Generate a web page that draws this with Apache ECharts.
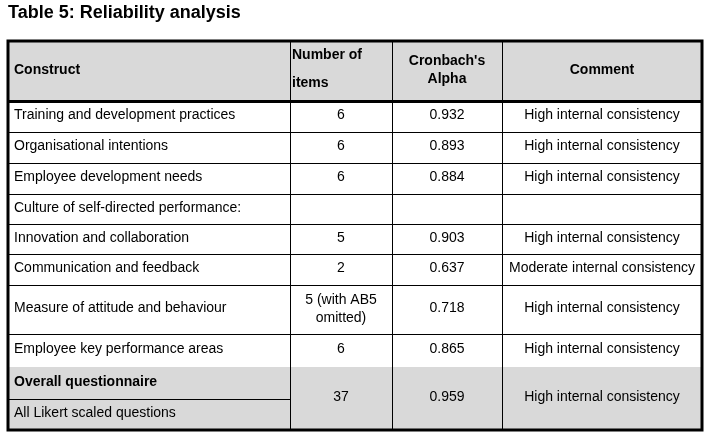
<!DOCTYPE html>
<html>
<head>
<meta charset="utf-8">
<script src="https://cdn.jsdelivr.net/npm/echarts@6/dist/echarts.min.js"></script>
<style>
  html, body { margin: 0; padding: 0; background: #fff; }
  #main { width: 712px; height: 435px; }
</style>
</head>
<body>
<div id="main"></div>
<script>
// ---- table data ----
var headers = ['Construct', 'Number of\nitems', "Cronbach's\nAlpha", 'Comment'];
var constructs = [
  'Training and development practices',
  'Organisational intentions',
  'Employee development needs',
  'Culture of self-directed performance:',
  'Innovation and collaboration',
  'Communication and feedback',
  'Measure of attitude and behaviour',
  'Employee key performance areas'
];
var itemCounts = ['6', '6', '6', '', '5', '2', '5 (with AB5\nomitted)', '6'];
var alphas = ['0.932', '0.893', '0.884', '', '0.903', '0.637', '0.718', '0.865'];
var comments = [
  'High internal consistency',
  'High internal consistency',
  'High internal consistency',
  '',
  'High internal consistency',
  'Moderate internal consistency',
  'High internal consistency',
  'High internal consistency'
];
var overallLabels = ['Overall questionnaire', 'All Likert scaled questions'];
var overallValues = ['37', '0.959', 'High internal consistency'];

// ---- layout (axis units = pixels) ----
var colEdges = [8, 290, 392, 502, 702];
var rowEdges = [41, 101, 132, 163, 194, 224, 254, 285, 334, 367, 430];
var overallSplit = 399;
var headFill = '#d9d9d9';
var font = "'Liberation Sans', Arial, sans-serif";

var cells = [];
headers.forEach(function (h, i) {
  cells.push({x0: colEdges[i], x1: colEdges[i + 1], y0: rowEdges[0], y1: rowEdges[1],
    text: h, bold: true, align: i < 2 ? 'left' : 'center', fill: headFill,
    lh: i === 1 ? 28 : 18, pad: i === 1 ? 2 : 6, dy: i === 1 ? -2 : -1});
});
constructs.forEach(function (name, k) {
  var vals = [name, itemCounts[k], alphas[k], comments[k]];
  vals.forEach(function (v, i) {
    cells.push({x0: colEdges[i], x1: colEdges[i + 1], y0: rowEdges[k + 1], y1: rowEdges[k + 2],
      text: v, bold: false, align: i === 0 ? 'left' : 'center', fill: '#fff', lh: 18, pad: 6,
      dy: v.indexOf('\n') >= 0 ? 0 : -1});
  });
});
var last = rowEdges.length - 2;
overallLabels.forEach(function (t, j) {
  cells.push({x0: colEdges[0], x1: colEdges[1],
    y0: j === 0 ? rowEdges[last] : overallSplit, y1: j === 0 ? overallSplit : rowEdges[last + 1],
    text: t, bold: j === 0, align: 'left', fill: headFill, lh: 18, pad: 6, dy: -1});
});
overallValues.forEach(function (v, i) {
  cells.push({x0: colEdges[i + 1], x1: colEdges[i + 2], y0: rowEdges[last], y1: rowEdges[last + 1],
    text: v, bold: false, align: 'center', fill: headFill, lh: 18, pad: 6, dy: -1});
});

// rule lines: [x0, y0, x1, y1, width]
var rules = [];
rules.push([colEdges[0], rowEdges[1], colEdges[4], rowEdges[1], 3]);
for (var r = 2; r < rowEdges.length - 2; r++) {
  rules.push([colEdges[0], rowEdges[r], colEdges[4], rowEdges[r], 1]);
}
rules.push([colEdges[0], overallSplit, colEdges[1], overallSplit, 1]);
for (var c = 1; c < colEdges.length - 1; c++) {
  rules.push([colEdges[c], rowEdges[0], colEdges[c], rowEdges[rowEdges.length - 1], 1]);
}

var chart = echarts.init(document.getElementById('main'));
var option = {
  animation: false,
  title: {
    text: 'Table 5: Reliability analysis',
    left: 8, top: 4, padding: 0,
    textStyle: {fontFamily: font, fontSize: 18, fontWeight: 'bold', color: '#000'}
  },
  grid: {
    left: colEdges[0], top: rowEdges[0],
    right: 712 - colEdges[4], bottom: 435 - rowEdges[rowEdges.length - 1],
    show: true, borderColor: '#000', borderWidth: 3, backgroundColor: 'transparent', z: 10
  },
  xAxis: {type: 'value', min: colEdges[0], max: colEdges[4], show: false},
  yAxis: {type: 'value', min: rowEdges[0], max: rowEdges[rowEdges.length - 1], inverse: true, show: false},
  series: [
    {
      type: 'custom',
      name: 'cells',
      silent: true,
      encode: {x: [0, 2], y: [1, 3]},
      data: cells.map(function (c) { return [c.x0, c.y0, c.x1, c.y1]; }),
      renderItem: function (params, api) {
        var cell = cells[params.dataIndex];
        var p0 = api.coord([api.value(0), api.value(1)]);
        var p1 = api.coord([api.value(2), api.value(3)]);
        var tx = cell.align === 'left' ? p0[0] + cell.pad : (p0[0] + p1[0]) / 2;
        var ty = (p0[1] + p1[1]) / 2 + cell.dy;
        return {
          type: 'group',
          children: [
            {type: 'rect', shape: {x: p0[0], y: p0[1], width: p1[0] - p0[0], height: p1[1] - p0[1]},
              style: {fill: cell.fill}},
            {type: 'text', style: {
              text: cell.text, x: tx, y: ty, fill: '#000',
              fontFamily: font, fontSize: 14, fontWeight: cell.bold ? 'bold' : 'normal',
              align: cell.align, verticalAlign: 'middle', lineHeight: cell.lh
            }}
          ]
        };
      }
    },
    {
      type: 'custom',
      name: 'rules',
      silent: true,
      z: 5,
      encode: {x: [0, 2], y: [1, 3]},
      data: rules,
      renderItem: function (params, api) {
        var a = api.coord([api.value(0), api.value(1)]);
        var b = api.coord([api.value(2), api.value(3)]);
        var w = api.value(4);
        // snap odd widths to half pixels so rules stay crisp
        var off = (w % 2) ? 0.5 : 0;
        var horiz = a[1] === b[1];
        return {
          type: 'line',
          shape: {
            x1: horiz ? a[0] : a[0] + off, y1: horiz ? a[1] + off : a[1],
            x2: horiz ? b[0] : b[0] + off, y2: horiz ? b[1] + off : b[1]
          },
          style: {stroke: '#000', lineWidth: w}
        };
      }
    }
  ]
};
chart.setOption(option);
</script>
</body>
</html>
